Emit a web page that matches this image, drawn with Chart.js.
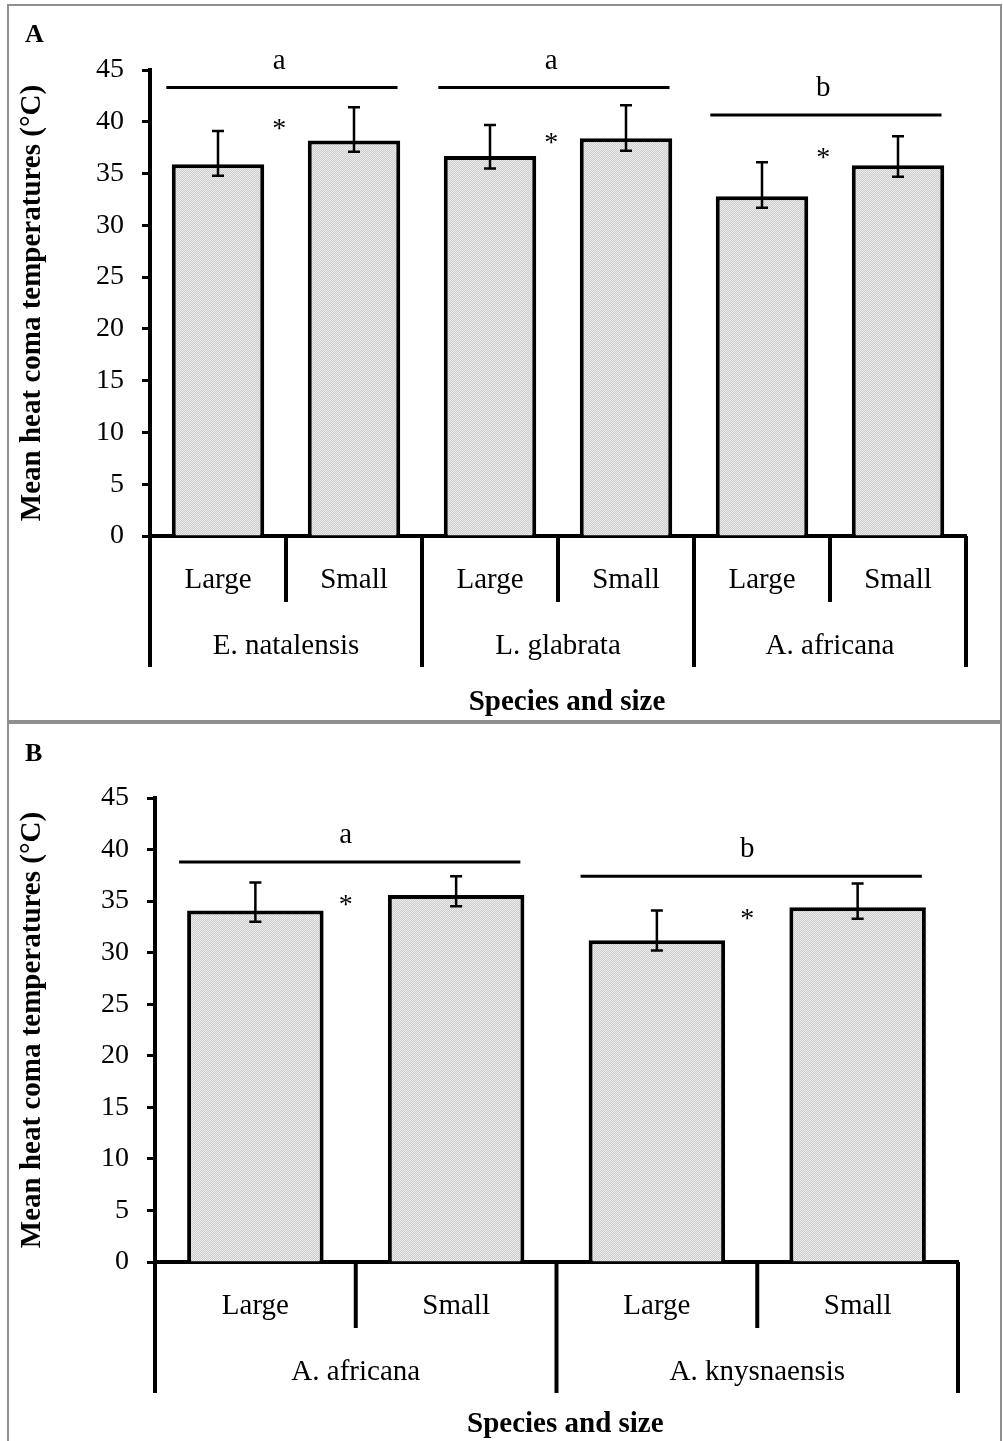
<!DOCTYPE html>
<html>
<head>
<meta charset="utf-8">
<script src="https://cdn.jsdelivr.net/npm/chart.js@4.4.1/dist/chart.umd.min.js"></script>
<style>
  body { margin: 0; background: #fff; }
  .panel { position: absolute; left: 7px; width: 991px; border: 2px solid #8f8f8f; background: #fff; }
  #panelA { top: 4px; height: 714px; }
  #panelB { top: 722px; height: 717px; }
  canvas { display: block; }
</style>
</head>
<body>
<div class="panel" id="panelA"><canvas id="chartA" width="991" height="714"></canvas></div>
<div class="panel" id="panelB"><canvas id="chartB" width="991" height="717"></canvas></div>
<script>
// sizes within each species
const sizeLabels = ['Large', 'Small'];

// panel A
const speciesA = ['E. natalensis', 'L. glabrata', 'A. africana'];
const meanA  = [35.9, 38.2, 36.7, 38.4, 32.8, 35.8];
const upperA = [39.1, 41.4, 39.7, 41.6, 36.1, 38.6];
const lowerA = [34.8, 37.1, 35.5, 37.2, 31.7, 34.7];
const lettersA = ['a', 'a', 'b'];

// panel B
const speciesB = ['A. africana', 'A. knysnaensis'];
const meanB  = [34.1, 35.6, 31.2, 34.4];
const upperB = [36.8, 37.4, 34.1, 36.7];
const lowerB = [33.0, 34.5, 30.2, 33.3];
const lettersB = ['a', 'b'];

const SERIF = "'Liberation Serif', 'Times New Roman', serif";
Chart.defaults.font.family = SERIF;
Chart.defaults.color = '#000';

// fine grey dot texture for the bars
function barFill() {
  const c = document.createElement('canvas');
  c.width = 2; c.height = 2;
  const g = c.getContext('2d');
  g.fillStyle = '#ececec';
  g.fillRect(0, 0, 2, 2);
  g.fillStyle = '#cccccc';
  g.fillRect(0, 0, 1, 1);
  g.fillRect(1, 1, 1, 1);
  return g.createPattern(c, 'repeat');
}

// error bars, group letters, asterisks and the two-row category axis
const panelDecor = {
  id: 'panelDecor',
  afterDatasetsDraw(chart, args, opts) {
    const {ctx} = chart;
    const x = chart.scales.x, y = chart.scales.y;
    ctx.save();
    ctx.strokeStyle = '#000';
    ctx.fillStyle = '#000';

    ctx.lineWidth = 2.5;
    opts.upper.forEach((hi, i) => {
      const px = x.getPixelForValue(i);
      const top = y.getPixelForValue(hi);
      const bot = y.getPixelForValue(opts.lower[i]);
      ctx.beginPath();
      ctx.moveTo(px, top); ctx.lineTo(px, bot);
      ctx.moveTo(px - 6, top); ctx.lineTo(px + 6, top);
      ctx.moveTo(px - 6, bot); ctx.lineTo(px + 6, bot);
      ctx.stroke();
    });

    ctx.textAlign = 'center';
    ctx.textBaseline = 'alphabetic';
    opts.letters.forEach((txt, g) => {
      const ly = y.getPixelForValue(opts.lineAt[g]);
      ctx.lineWidth = 3;
      ctx.beginPath();
      ctx.moveTo(x.getPixelForValue(2 * g - 0.38), ly);
      ctx.lineTo(x.getPixelForValue(2 * g + 1.32), ly);
      ctx.stroke();
      const cx = x.getPixelForValue(2 * g + 0.45);
      ctx.font = '29px ' + SERIF;
      ctx.fillText(txt, cx, ly - 19);
      ctx.font = '28px ' + SERIF;
      ctx.fillText('*', cx, y.getPixelForValue(opts.starAt[g]) + 14);
    });
    ctx.restore();
  },
  afterDraw(chart, args, opts) {
    const {ctx, chartArea} = chart;
    const x = chart.scales.x;
    const base = chartArea.bottom;
    const n = opts.species.length * sizeLabels.length;
    ctx.save();
    ctx.strokeStyle = '#000';
    ctx.fillStyle = '#000';
    ctx.lineWidth = 4;
    for (let k = 0; k <= n; k++) {
      const px = x.getPixelForValue(k - 0.5);
      const len = k % 2 === 0 ? 131 : 66;
      ctx.beginPath();
      ctx.moveTo(px, base);
      ctx.lineTo(px, base + len);
      ctx.stroke();
    }
    ctx.textAlign = 'center';
    ctx.textBaseline = 'middle';
    ctx.font = '29px ' + SERIF;
    opts.species.forEach((s, g) => ctx.fillText(s, x.getPixelForValue(2 * g + 0.5), base + 110));
    ctx.font = 'bold 29px ' + SERIF;
    ctx.fillText('Species and size', chartArea.left + chartArea.width * 0.511, base + opts.titleGap);

    ctx.textAlign = 'left';
    ctx.textBaseline = 'alphabetic';
    ctx.font = 'bold 26px ' + SERIF;
    ctx.fillText(opts.letter, 16, opts.letterY);
    ctx.restore();
  }
};

function buildChart(canvasId, species, means, decor, box) {
  const labels = [];
  species.forEach(() => sizeLabels.forEach(s => labels.push(s)));
  return new Chart(document.getElementById(canvasId), {
    type: 'bar',
    data: {
      labels: labels,
      datasets: [{
        data: means,
        backgroundColor: barFill(),
        borderColor: '#000',
        borderWidth: 4,
        categoryPercentage: 1,
        barPercentage: 0.68
      }]
    },
    options: {
      responsive: false,
      animation: false,
      events: [],
      layout: { padding: { top: box.top, right: box.right, left: 0, bottom: 0 } },
      plugins: {
        legend: { display: false },
        tooltip: { enabled: false },
        panelDecor: decor
      },
      scales: {
        x: {
          grid: { display: false, drawTicks: false },
          border: { display: true, color: '#000', width: 4 },
          ticks: { color: '#000', font: { size: 29 }, padding: 27, maxRotation: 0, autoSkip: false },
          afterFit(scale) { scale.height = box.xHeight; }
        },
        y: {
          min: 0,
          max: 45,
          ticks: { stepSize: 5, color: '#000', font: { size: 28 }, padding: 18 },
          grid: { drawOnChartArea: false, drawTicks: true, tickLength: 8, tickWidth: 3, tickColor: '#000' },
          border: { color: '#000', width: 4 },
          title: {
            display: true,
            text: 'Mean heat coma temperatures (°C)',
            color: '#000',
            font: { size: 29, weight: 'bold' },
            padding: { top: 6, bottom: 0 }
          },
          afterFit(scale) { scale.width = box.yWidth; }
        }
      }
    },
    plugins: [panelDecor]
  });
}

buildChart('chartA', speciesA, meanA, {
  upper: upperA, lower: lowerA, letters: lettersA, species: speciesA,
  lineAt: [43.3, 43.3, 40.65], starAt: [39.9, 38.5, 37.1],
  titleGap: 167, letter: 'A', letterY: 36
}, { top: 64, right: 34, yWidth: 141, xHeight: 184 });

buildChart('chartB', speciesB, meanB, {
  upper: upperB, lower: lowerB, letters: lettersB, species: speciesB,
  lineAt: [38.8, 37.4], starAt: [35.2, 33.8],
  titleGap: 163, letter: 'B', letterY: 37
}, { top: 74, right: 42, yWidth: 146, xHeight: 179 });
</script>
</body>
</html>
